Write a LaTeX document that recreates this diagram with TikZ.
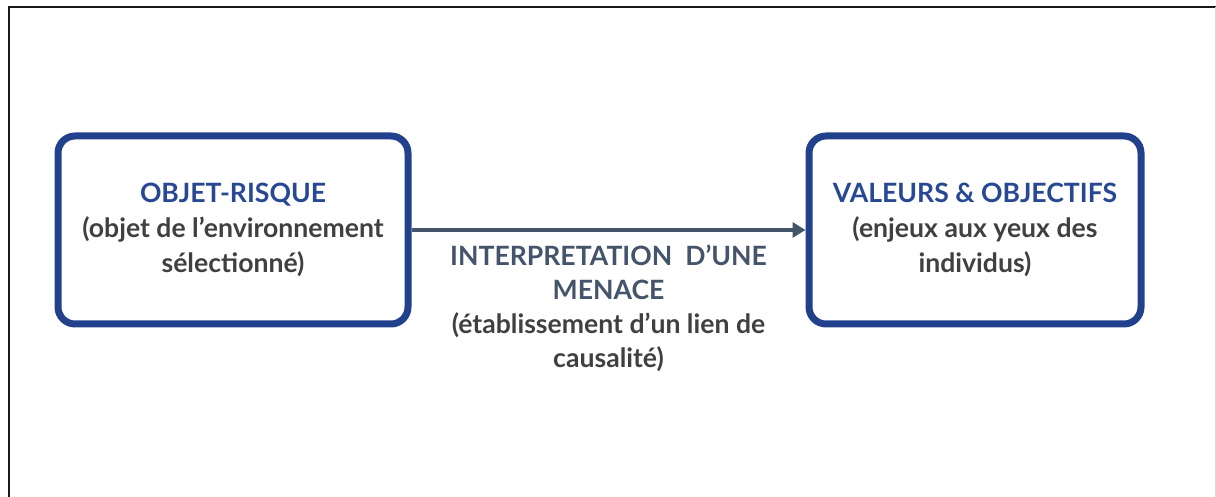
\documentclass[tikz,border=0pt]{standalone}
\usepackage{fontspec}
\setmainfont{Lato}
\usetikzlibrary{arrows.meta}
\usetikzlibrary{positioning}
\definecolor{boxblue}{HTML}{22418C}
\definecolor{titleblue}{HTML}{284894}
\definecolor{slate}{HTML}{44546A}
\definecolor{textgray}{HTML}{404040}
\tikzset{
  riskbox/.style={draw=boxblue,line width=3.5pt,rounded corners=8.5pt,fill=white,
    minimum height=94pt,align=center,font=\fontsize{13.3}{17.5}\selectfont\bfseries,text=textgray},
  link/.style={draw=slate,line width=2pt,-{Triangle[length=6.5pt,width=7.5pt]}}
}

\begin{document}
\begin{tikzpicture}[x=0.5pt,y=-0.5pt]
\useasboundingbox (0,0) rectangle (1216,497);
\draw[black!90,line width=1.25pt] (9,497) -- (9,7) -- (1216,7);
\draw[black!15,very thin] (1215,7) -- (1215,497);

\node[riskbox,minimum width=175pt] (objet) at (233,230)
  {{\color{titleblue}OBJET-RISQUE}\\(objet de l'environnement\\sélectionné)};
\node[riskbox,minimum width=166pt] (valeurs) at (975,230)
  {{\color{titleblue}VALEURS \& OBJECTIFS}\\(enjeux aux yeux des\\individus)};

\draw[link] (objet.east) -- (valeurs.west)
  node[midway,below=3pt,align=center,font=\fontsize{13.3}{17}\selectfont\bfseries,text=textgray] (menace)
  {{\color{slate}INTERPRETATION \ D'UNE}\\{\color{slate}MENACE}\\(établissement d'un lien de\\causalité)};

\end{tikzpicture}
\end{document}
